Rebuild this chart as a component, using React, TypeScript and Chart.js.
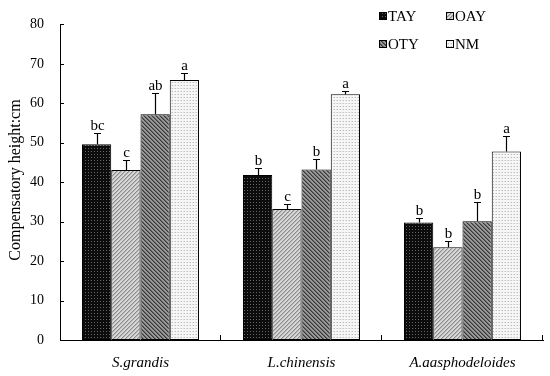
import React, { useEffect, useRef } from "react";
import { Chart, registerables } from "chart.js";

Chart.register(...registerables);

const categories = ["S.grandis", "L.chinensis", "A.aasphodeloides"];
const seriesNames = ["TAY", "OAY", "OTY", "NM"];
const tayValues = [49.6, 41.8, 29.8];
const oayValues = [43.1, 33.2, 23.5];
const otyValues = [57.2, 43.2, 30.1];
const nmValues = [65.9, 62.3, 47.8];
const tayErr = [2.8, 1.8, 1.2];
const oayErr = [2.5, 1.4, 1.5];
const otyErr = [5.3, 2.6, 5.0];
const nmErr = [1.7, 0.8, 3.8];
const tayLetters = ["bc", "b", "b"];
const oayLetters = ["c", "c", "b"];
const otyLetters = ["ab", "b", "b"];
const nmLetters = ["a", "a", "a"];
const yTicks = [0, 10, 20, 30, 40, 50, 60, 70, 80];
const yTitle = "Compensatory height:cm";

const SERIF = "'Liberation Serif', 'Times New Roman', serif";

function makePattern(size: number, draw: (g: CanvasRenderingContext2D, s: number) => void) {
  const c = document.createElement("canvas");
  c.width = size;
  c.height = size;
  const g = c.getContext("2d")!;
  draw(g, size);
  const p = g.createPattern(c, "repeat");
  return p as CanvasPattern;
}

function buildPatterns() {
  const tay = makePattern(3, (g) => {
    g.fillStyle = "#0c0c0c";
    g.fillRect(0, 0, 3, 3);
    g.fillStyle = "#666666";
    g.fillRect(1, 1, 1, 1);
  });
  const oay = makePattern(4, (g) => {
    g.fillStyle = "#d8d8d8";
    g.fillRect(0, 0, 4, 4);
    g.fillStyle = "#8c8c8c";
    for (let i = 0; i < 4; i++) g.fillRect(3 - i, i, 1, 1);
    g.fillStyle = "#b4b4b4";
    for (let i = 0; i < 4; i++) g.fillRect((4 - i) % 4, i, 1, 1);
  });
  const oty = makePattern(4, (g) => {
    g.fillStyle = "#989898";
    g.fillRect(0, 0, 4, 4);
    g.fillStyle = "#383838";
    for (let i = 0; i < 4; i++) g.fillRect(i, i, 1, 1);
    g.fillStyle = "#686868";
    for (let i = 0; i < 4; i++) g.fillRect((i + 1) % 4, i, 1, 1);
  });
  const nm = makePattern(3, (g) => {
    g.fillStyle = "#f6f6f6";
    g.fillRect(0, 0, 3, 3);
    g.fillStyle = "#bdbdbd";
    g.fillRect(1, 1, 1, 1);
    g.fillStyle = "#dcdcdc";
    g.fillRect(0, 1, 1, 1);
  });
  return [tay, oay, oty, nm];
}

export default function App() {
  const ref = useRef<HTMLCanvasElement>(null);

  useEffect(() => {
    const canvas = ref.current!;
    const patterns = buildPatterns();
    const values = [tayValues, oayValues, otyValues, nmValues];
    const errs = [tayErr, oayErr, otyErr, nmErr];
    const letters = [tayLetters, oayLetters, otyLetters, nmLetters];

    const extras = {
      id: "extras",
      afterDatasetsDraw(chart: any) {
        const ctx = chart.ctx as CanvasRenderingContext2D;
        const ys = chart.scales.y;
        ctx.save();
        ctx.strokeStyle = "#000";
        ctx.lineWidth = 1.2;
        ctx.fillStyle = "#000";
        ctx.font = `15px ${SERIF}`;
        ctx.textAlign = "center";
        ctx.textBaseline = "alphabetic";
        for (let d = 0; d < 4; d++) {
          const meta = chart.getDatasetMeta(d);
          meta.data.forEach((bar: any, i: number) => {
            const x = Math.round(bar.x) + 0.5;
            const yTop = ys.getPixelForValue(values[d][i]);
            const yErr = Math.round(ys.getPixelForValue(values[d][i] + errs[d][i])) + 0.5;
            ctx.beginPath();
            ctx.moveTo(x, yTop);
            ctx.lineTo(x, yErr);
            ctx.moveTo(x - 3.5, yErr);
            ctx.lineTo(x + 3.5, yErr);
            ctx.stroke();
            ctx.fillText(letters[d][i], x, yErr - 4);
          });
        }
        ctx.restore();
      },
      afterDraw(chart: any) {
        const ctx = chart.ctx as CanvasRenderingContext2D;
        const area = chart.chartArea;
        const ys = chart.scales.y;
        ctx.save();
        ctx.strokeStyle = "#000";
        ctx.lineWidth = 1;
        yTicks.forEach((v) => {
          const y = Math.round(ys.getPixelForValue(v)) + 0.5;
          ctx.beginPath();
          ctx.moveTo(area.left, y);
          ctx.lineTo(area.left + 4, y);
          ctx.stroke();
        });
        const n = categories.length;
        for (let i = 1; i <= n; i++) {
          const x = Math.round(area.left + ((area.right - area.left) * i) / n) - 0.5;
          ctx.beginPath();
          ctx.moveTo(x, area.bottom);
          ctx.lineTo(x, area.bottom - 5);
          ctx.stroke();
        }
        ctx.fillStyle = "#000";
        ctx.font = `16px ${SERIF}`;
        ctx.textAlign = "center";
        ctx.textBaseline = "middle";
        ctx.translate(16, 180);
        ctx.rotate(-Math.PI / 2);
        ctx.fillText(yTitle, 0, 0);
        ctx.restore();

        ctx.save();
        const pos = [
          [379, 16],
          [446, 16],
          [379, 44],
          [446, 44],
        ];
        ctx.font = `15px ${SERIF}`;
        ctx.textAlign = "left";
        ctx.textBaseline = "middle";
        for (let k = 0; k < 4; k++) {
          const [bx, by] = pos[k];
          ctx.fillStyle = patterns[k];
          ctx.fillRect(bx, by - 4, 7, 7);
          ctx.strokeStyle = "#000";
          ctx.lineWidth = 1;
          ctx.strokeRect(bx + 0.5, by - 3.5, 7, 7);
          ctx.fillStyle = "#000";
          ctx.fillText(seriesNames[k], bx + 9, by + 1);
        }
        ctx.restore();
      },
    };

    const chart = new Chart(canvas, {
      type: "bar",
      data: {
        labels: categories,
        datasets: seriesNames.map((name, k) => ({
          label: name,
          data: values[k],
          backgroundColor: patterns[k],
          borderColor: "#000",
          borderWidth: 1,
          borderSkipped: false,
          categoryPercentage: 0.727,
          barPercentage: 1,
        })),
      },
      options: {
        responsive: false,
        animation: false,
        events: [],
        layout: { padding: { top: 13, right: 7, left: 0, bottom: 0 } },
        plugins: {
          legend: { display: false },
          tooltip: { enabled: false },
          title: { display: false },
        },
        scales: {
          x: {
            grid: { display: false, drawTicks: false },
            border: { display: true, color: "#000", width: 1 },
            ticks: {
              color: "#000",
              padding: 14,
              font: { family: SERIF, size: 15, style: "italic" },
            },
            afterFit: (s: any) => {
              s.height = 36;
            },
          },
          y: {
            min: 0,
            max: 80,
            grid: { display: false, drawTicks: false },
            border: { display: true, color: "#000", width: 1 },
            ticks: {
              stepSize: 10,
              color: "#000",
              padding: 16,
              font: { family: SERIF, size: 14 },
            },
            afterFit: (s: any) => {
              s.width = 60;
            },
          },
        },
      },
      plugins: [extras],
    });
    return () => chart.destroy();
  }, []);

  return (
    <div style={{ position: "absolute", left: 0, top: 0, width: 550, height: 376, background: "#fff" }}>
      <canvas ref={ref} width={550} height={376} style={{ display: "block" }} />
    </div>
  );
}
